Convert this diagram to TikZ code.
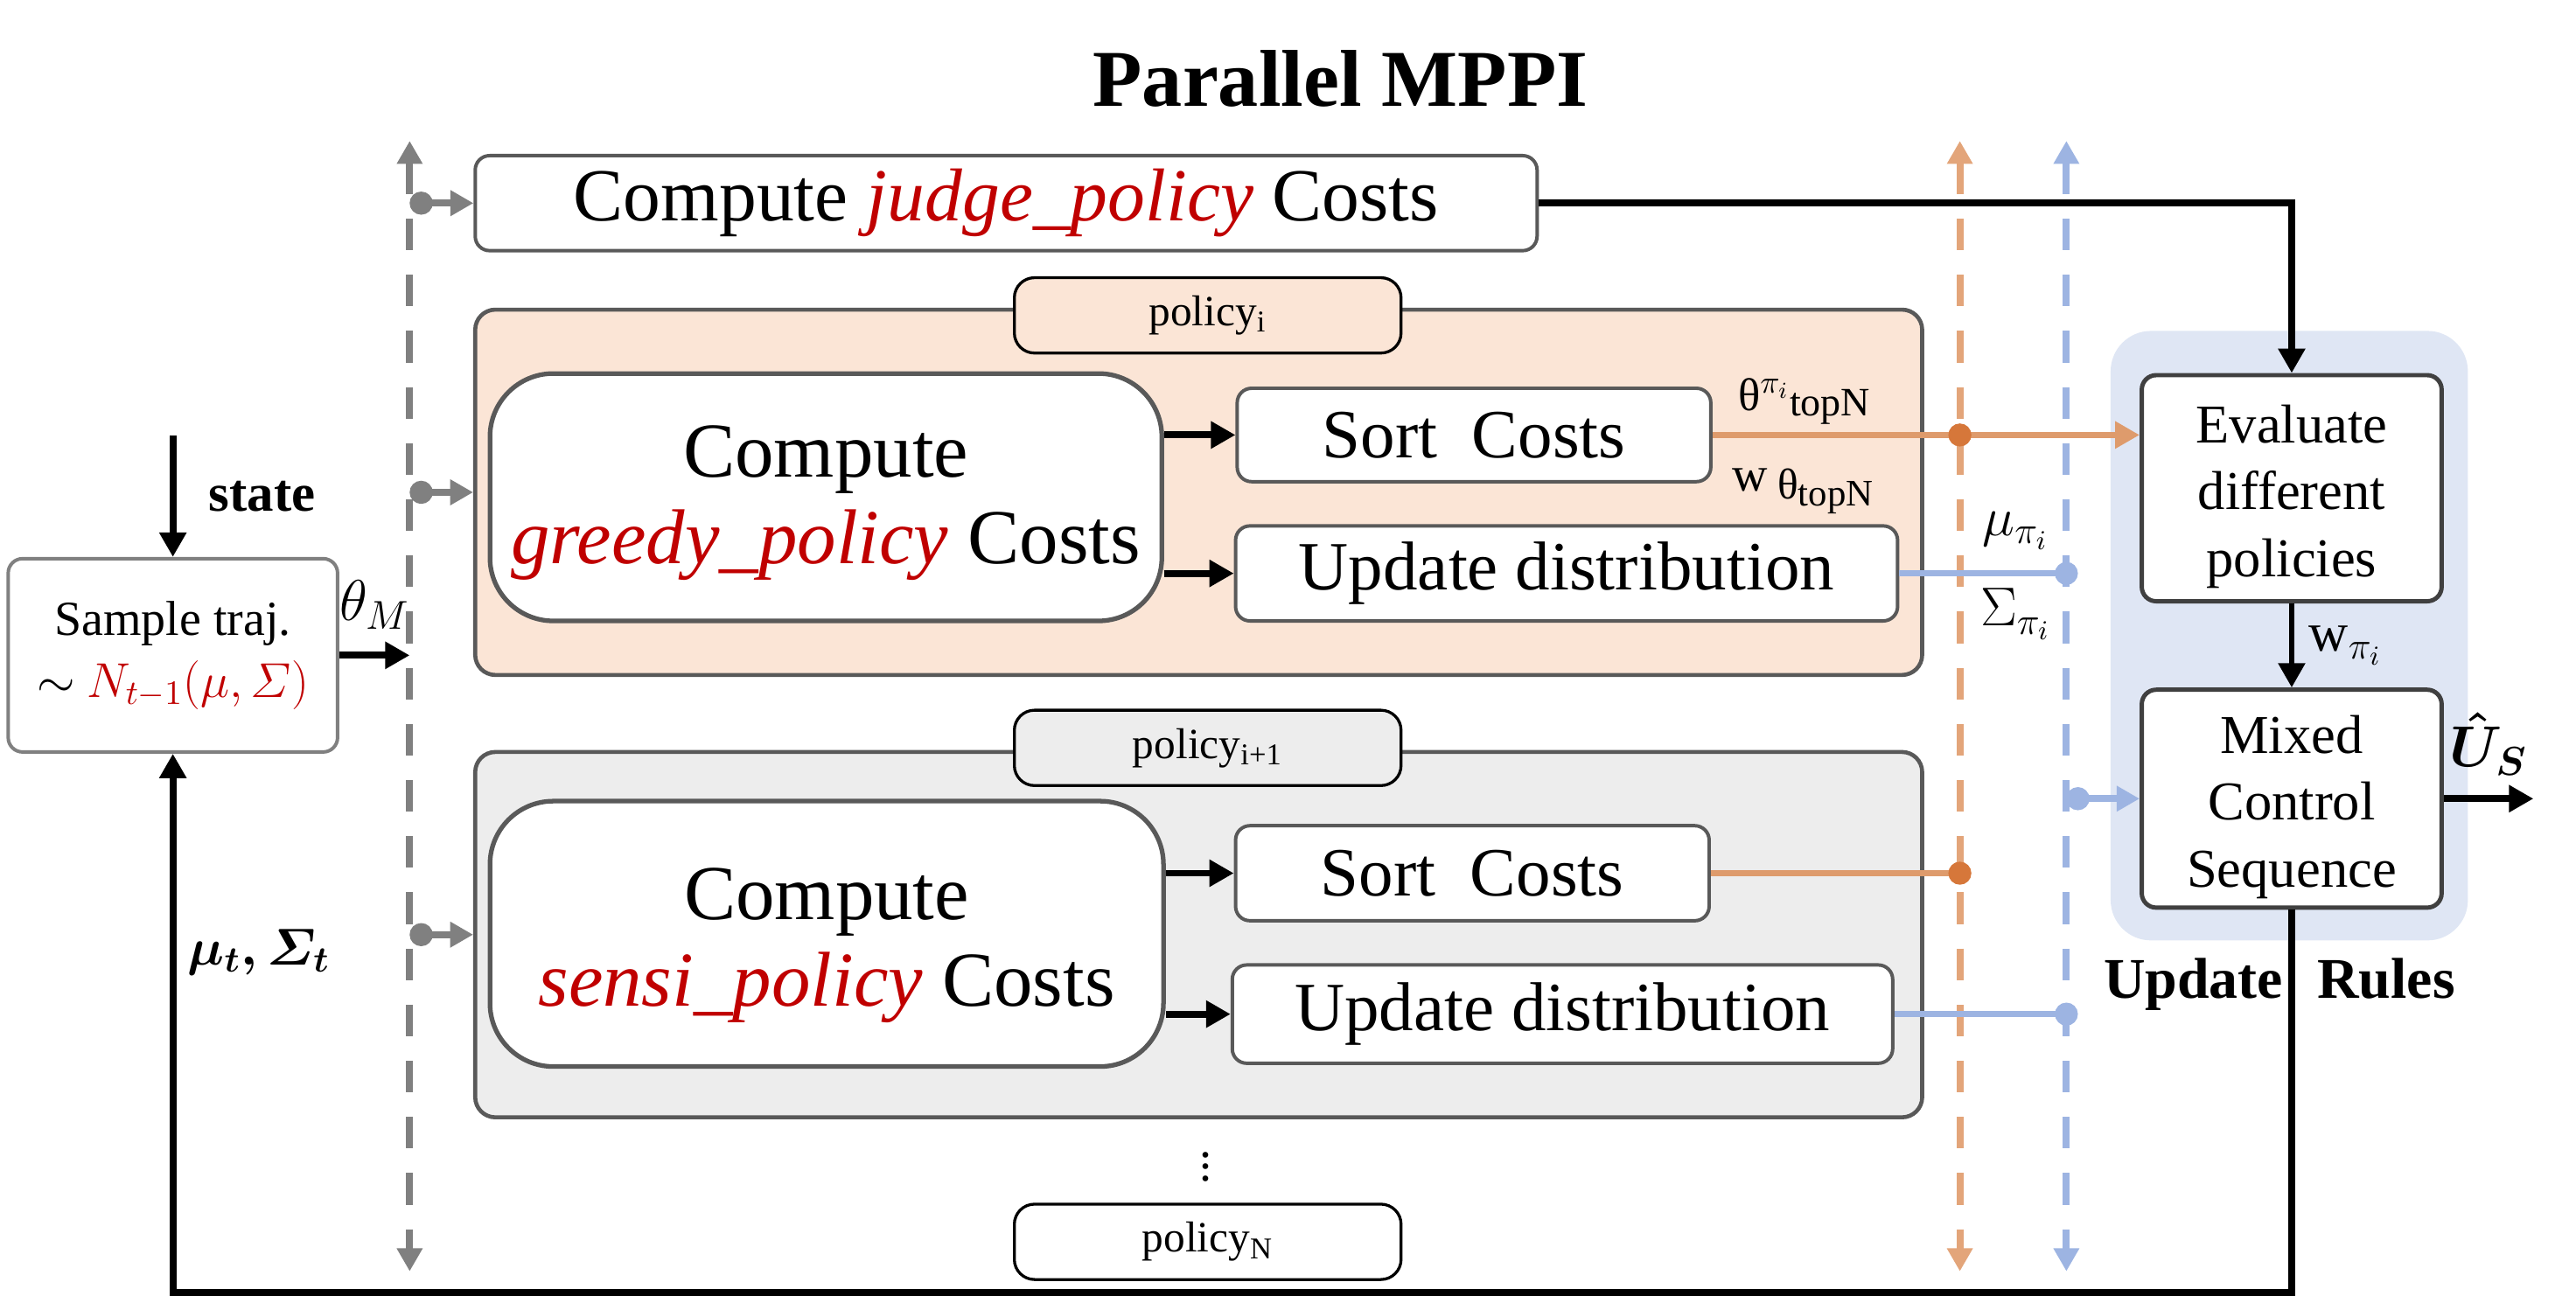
\documentclass[tikz,border=0pt]{standalone}
\usepackage{fix-cm}
\usepackage{amsmath}
\usepackage{amssymb}
\usepackage{fontspec}
\setmainfont{Liberation Serif}
\usetikzlibrary{arrows.meta}
\usetikzlibrary{positioning}

\definecolor{boxgray}{HTML}{595959}
\definecolor{peach}{HTML}{FBE5D6}
\definecolor{greybg}{HTML}{EDEDED}
\definecolor{orangeline}{HTML}{DE9B6C}
\definecolor{orangedash}{HTML}{E3A57A}
\definecolor{orangedot}{HTML}{D6773A}
\definecolor{blueline}{HTML}{9DB4E2}
\definecolor{rulesbg}{HTML}{DFE6F4}
\definecolor{darkred}{HTML}{C00000}
\definecolor{dashgray}{HTML}{808080}

\tikzset{
  box/.style={draw=boxgray, line width=1.2pt, fill=white, rounded corners=5pt, align=center, inner sep=0pt},
  bigbox/.style={box, line width=1.6pt, rounded corners=22pt, font=\fontsize{27}{30}\selectfont},
  panel/.style={draw=boxgray, line width=1.4pt, rounded corners=7pt, minimum width=176.6mm, minimum height=44.6mm},
  tab/.style={draw=black, line width=1pt, rounded corners=7pt, minimum width=47.2mm, minimum height=9.2mm, inner sep=0pt, font=\fontsize{15}{18}\selectfont},
  conn/.style={line width=2.4pt, -{Triangle[length=8.5pt,width=9pt]}},
  dotarrow/.style={line width=2.4pt, {Circle[length=8pt,width=8pt]}-{Triangle[length=8pt,width=8.5pt]}},
  vdash/.style={line width=2.4pt, dash pattern=on 11pt off 8.5pt, {Triangle[length=8pt,width=8.5pt]}-{Triangle[length=8pt,width=8.5pt]}},
  lab/.style={font=\fontsize{19}{21}\selectfont, inner sep=1pt}
}

\begin{document}
\begin{tikzpicture}[x=0.2mm, y=-0.2mm]
  \useasboundingbox (-3,-1) rectangle (1569,794);

  % Title
  \node[font=\fontsize{28}{32}\selectfont\bfseries] (title) at (815,47) {Parallel MPPI};

  % Policy panels
  \node[panel, fill=peach] (pol1) at (728.5,299.5) {};
  \node[tab, fill=peach] (tab1) at (734,191.5) {policy\textsubscript{i}};
  \node[panel, fill=greybg] (pol2) at (728.5,569.5) {};
  \node[tab, fill=greybg] (tab2) at (734,455.5) {policy\textsubscript{i+1}};
  \node[font=\fontsize{17}{19}\selectfont, inner sep=0pt] (more) at (733,706) {$\vdots$};
  \node[tab, fill=white] (tabN) at (734,757) {policy\textsubscript{N}};

  % Update rules region
  \node[fill=rulesbg, rounded corners=14pt, minimum width=43.6mm, minimum height=74.4mm] (rules) at (1394,387) {};

  % Boxes
  \node[box, font=\fontsize{26}{28}\selectfont, minimum width=129.6mm, minimum height=11.6mm] (judge) at (611,123)
    {Compute \textcolor{darkred}{\textit{judge\_policy}} Costs};
  \node[bigbox, minimum width=82mm, minimum height=30.2mm] (greedy) at (501,302.5)
    {\rule{0pt}{22pt}Compute\\\textcolor{darkred}{\textit{greedy\_policy}} Costs};
  \node[box, font=\fontsize{24}{26}\selectfont, minimum width=57.8mm, minimum height=11.4mm] (sort1) at (896.5,264.5) {Sort\ \ Costs};
  \node[box, font=\fontsize{24}{26}\selectfont, minimum width=80.8mm, minimum height=11.6mm] (upd1) at (953,349) {Update distribution};
  \node[bigbox, minimum width=82.2mm, minimum height=32.4mm] (sensi) at (501.5,569)
    {\rule{0pt}{26pt}Compute\\\textcolor{darkred}{\textit{sensi\_policy}} Costs};
  \node[box, font=\fontsize{24}{26}\selectfont, minimum width=57.8mm, minimum height=11.6mm] (sort2) at (895.5,532) {Sort\ \ Costs};
  \node[box, font=\fontsize{24}{26}\selectfont, minimum width=80.6mm, minimum height=12mm] (upd2) at (950.5,618) {Update distribution};
  \node[box, draw=black!75, line width=1.5pt, font=\fontsize{19}{23.3}\selectfont, minimum width=36.6mm, minimum height=27.6mm] (eval) at (1395.5,297)
    {\rule{0pt}{19pt}Evaluate\\different\\policies};
  \node[box, draw=black!75, line width=1.5pt, font=\fontsize{19}{23.3}\selectfont, minimum width=36.6mm, minimum height=26.6mm] (mixed) at (1395.5,486.5)
    {\rule{0pt}{19pt}Mixed\\Control\\Sequence};
  \node[box, draw=dashgray, font=\fontsize{17}{21.6}\selectfont, minimum width=40.2mm, minimum height=23.6mm] (sample) at (102.5,399)
    {Sample traj.\\$\sim$ \textcolor{darkred}{$N_{t-1}(\mu,\varSigma)$}};
  \node[font=\fontsize{20}{22}\selectfont\bfseries] (ruleslab) at (1388,600) {Update\hspace{0.6em}Rules};

  % Dashed buses
  \coordinate (ltop) at (247,85);
  \coordinate (lbot) at (247,775);
  \coordinate (otop) at (1193,85);
  \coordinate (obot) at (1193,775);
  \coordinate (btop) at (1258,85);
  \coordinate (bbot) at (1258,775);
  \draw[vdash, dashgray] (ltop) -- (lbot);
  \draw[vdash, orangedash] (otop) -- (obot);
  \draw[vdash, blueline] (btop) -- (bbot);

  % Inputs
  \coordinate (statein) at (102.5,265);
  \draw[conn] (statein) -- (sample.north)
    node[midway, right=8pt, font=\fontsize{18.5}{20}\selectfont\bfseries] {state};
  \draw[conn] (sample.east) -- (sample.east -| ltop)
    node[midway, above=7pt, lab, font=\fontsize{20}{22}\selectfont] {$\theta_M$};
  \draw[dotarrow, dashgray] (judge.west -| ltop) -- (judge.west);
  \draw[dotarrow, dashgray] (pol1.west -| ltop) -- (pol1.west);
  \draw[dotarrow, dashgray] (pol2.west -| ltop) -- (pol2.west);

  % Inside the panels
  \draw[conn] (greedy.east |- sort1.west) -- (sort1.west);
  \draw[conn] (greedy.east |- upd1.west) -- (upd1.west);
  \draw[conn] (sensi.east |- sort2.west) -- (sort2.west);
  \draw[conn] (sensi.east |- upd2.west) -- (upd2.west);

  % Outputs to the buses
  \draw[orangeline, line width=2.2pt, -{Triangle[length=8.5pt,width=9pt]}] (sort1.east) -- (sort1.east -| eval.west);
  \fill[orangedot] (sort1.east -| otop) circle (4pt);
  \draw[orangeline, line width=2.2pt] (sort2.east) -- (sort2.east -| otop);
  \fill[orangedot] (sort2.east -| otop) circle (4pt);
  \draw[blueline, line width=2.2pt] (upd1.east) -- (upd1.east -| btop);
  \fill[blueline] (upd1.east -| btop) circle (4pt);
  \draw[blueline, line width=2.2pt] (upd2.east) -- (upd2.east -| btop);
  \fill[blueline] (upd2.east -| btop) circle (4pt);
  \draw[dotarrow, blueline] (mixed.west -| btop) -- (mixed.west);

  % Labels on the buses
  \node[inner sep=0pt] (thlab) at (1098,244)
    {{\fontsize{16}{18}\selectfont θ$^{\pi_i}$}\raisebox{-0.45ex}{\fontsize{14}{16}\selectfont topN}};
  \node[inner sep=0pt] (wlab) at (1097,299)
    {{\fontsize{17}{19}\selectfont w}\hspace{0.35em}\raisebox{-0.6ex}{\fontsize{15}{17}\selectfont θ\raisebox{-0.35ex}{\fontsize{13}{15}\selectfont topN}}};
  \node[lab] (mulab) at (1227,323) {$\mu_{\pi_i}$};
  \node[lab] (siglab) at (1227,374) {$\Sigma_{\pi_i}$};

  % Update rules
  \draw[conn] (judge.east) -| (eval.north);
  \draw[conn, line width=2pt] (eval.south) -- (mixed.north)
    node[midway, right=4pt, lab] {w$_{\pi_i}$};
  \coordinate (uout) at (1543,486.5);
  \draw[conn] (mixed.east) -- (uout)
    node[midway, above=6pt, lab, font=\fontsize{20}{22}\selectfont] {$\boldsymbol{\hat{U}_S}$};

  % Feedback
  \coordinate (fbot) at (0,788);
  \draw[conn] (mixed.south) |- (fbot -| sample.south) -- (sample.south);
  \node[lab, font=\fontsize{18}{20}\selectfont] (fblab) at (155,580) {$\boldsymbol{\mu_t,\varSigma_t}$};
\end{tikzpicture}
\end{document}
